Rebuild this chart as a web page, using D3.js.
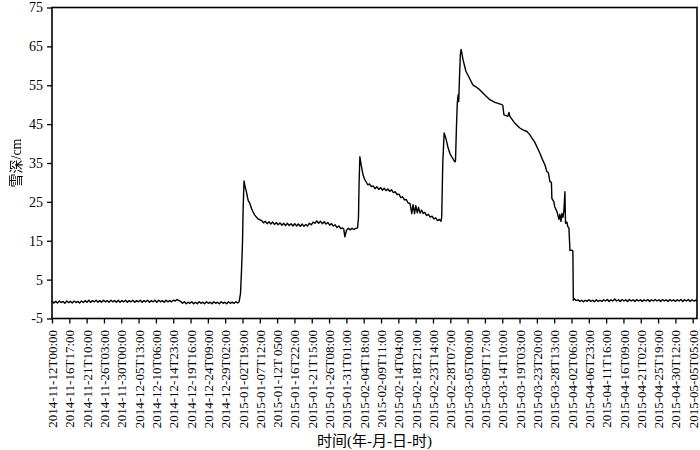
<!DOCTYPE html>
<html><head><meta charset="utf-8">
<script src="https://cdn.jsdelivr.net/npm/d3@7"></script>
<style>
body{margin:0;background:#fff}
svg{display:block}
</style>
</head><body>
<svg id="c" width="700" height="450"></svg>
<script>
// ---- data (hours since 2014-11-12T00:00, snow depth in cm) ----
const baseAHours = [
  0,12,24,36,48,60,72,84,96,108,
  120,132,144,156,168,180,192,204,216,228,
  240,252,264,276,288,300,312,324,336,348,
  360,372,384,396,408,420,432,444,456,468,
  480,492,504,516,528,540,552,564,576,588,
  600,612,624,636,648,660,672,684,696,708,
  720,732,744,756,768,780,792,804,816,828,
  840,852,864,876,888,900,912,924,936,948,
  960,972,984,996,1008,1020,1032,1044,1056,1068,
  1080,1092,1104,1116,1128,1140,1152,1164,1176,1188,
  1200,1212];
const baseADepth = [
  -0.5,-1.0,-0.6,-1.0,-0.5,-0.9,-0.6,-1.1,-0.5,-0.9,
  -0.6,-1.0,-0.5,-0.9,-0.6,-1.0,-0.5,-0.9,-0.4,-0.8,
  -0.3,-0.8,-0.4,-0.7,-0.3,-0.8,-0.4,-0.8,-0.3,-0.7,
  -0.4,-0.8,-0.3,-0.7,-0.4,-0.8,-0.3,-0.8,-0.4,-0.7,
  -0.3,-0.8,-0.4,-0.7,-0.3,-0.8,-0.4,-0.7,-0.3,-0.8,
  -0.4,-0.7,-0.3,-0.8,-0.4,-0.7,-0.3,-0.8,-0.3,-0.7,
  -0.4,-0.8,-0.3,-0.7,-0.4,-0.7,-0.3,-0.5,-0.1,-0.4,
  -0.6,-1.1,-0.7,-1.2,-0.8,-1.1,-0.7,-1.2,-0.8,-1.2,
  -0.7,-1.1,-0.8,-1.2,-0.7,-1.1,-0.8,-1.2,-0.7,-1.1,
  -0.8,-1.2,-0.7,-1.1,-0.8,-1.2,-0.7,-1.1,-0.8,-1.1,
  -0.7,-1.0];

const janHours = [1221,1230,1236,1243,1247,1253,1258,1269,1280,1291,1302,1312,1323,1345,1356,
  1368,1380,1392,1404,1416,1428,1440,1452,1464,1476,
  1488,1500,1512,1524,1536,1548,1560,1572,1584,1596,
  1608,1620,1632,1644,1656,1668,1680,1692,1704,1716,
  1728,1740,1752,1764,1776,1788,1800,1812,1824,1836,
  1848,1860,1872,1884,1896,
  1904,1911,1922,1934,1946,1958,1970,1982,1994];
const janDepth = [-0.7,1.4,6.6,14.3,22.8,30.4,29.3,27.5,25.4,24.6,23.3,22.4,21.6,20.6,20.4,
  20.2,19.6,20.0,19.4,19.9,19.3,19.8,19.2,19.7,19.1,
  19.6,19.0,19.5,18.9,19.5,18.9,19.4,18.8,19.4,18.8,
  19.3,18.7,19.3,18.7,19.2,18.8,19.5,19.1,19.8,19.5,
  20.1,19.5,20.0,19.4,19.9,19.3,19.7,19.0,19.4,18.8,
  19.1,18.4,18.8,18.1,18.3,
  18.0,16.0,17.7,18.2,17.8,18.2,17.9,18.2,18.3];

const febHours = [2000,2004,2009,2020,2030,2040,
  2048,2060,2072,2084,2096,2108,2120,2132,2144,2156,
  2168,2180,2192,2204,2216,2228,2240,2252,2264,2276,
  2288,2300,2312,2324,2336,2348,2356,2366,2374,2384,
  2392,2402,2412,2422,2432,2444,2456,2468,2480,2492,
  2504,2516,2528,2538,2543];
const febDepth = [21.0,30.0,36.6,34.0,31.9,30.8,
  30.3,29.4,29.6,28.9,29.1,28.4,28.9,28.2,28.7,28.0,
  28.5,27.9,28.3,27.7,28.1,27.4,27.6,26.9,27.0,26.1,
  26.3,25.5,25.6,24.7,24.6,22.0,24.3,22.0,24.0,22.2,
  23.6,22.1,22.9,22.0,22.3,21.5,21.8,21.1,21.3,20.6,
  20.9,20.2,20.5,20.0,21.0];

const marHours = [2550,2559,2570,2583,2596,2609,2629,2633,2640,2645,2650,2654,2660,2665,2670,
  2682,2701,2727,2746,2766,2792,2825,2857,2890,2936,
  2942,2949,2975,2982,2988,3021,3053,3073,3099,3118,
  3132,3151,3164,3184,3197,3217,3229,3239,3249,3259,
  3262,3275,3281,3295,3301,3308,3314,3321,3327,3334,
  3340,3347,3351,3360,3366,3373,3380,3393,3399,3402];
const marDepth = [35.0,42.7,41.4,39.2,37.5,36.6,35.3,35.5,45.2,50.5,52.5,50.8,58.0,63.0,64.2,
  61.6,58.6,56.6,55.1,54.6,53.8,52.5,51.3,50.6,50.0,
  49.8,47.4,47.0,48.0,47.0,45.2,44.0,43.5,43.1,42.3,
  41.4,40.3,39.2,37.5,36.2,34.5,32.8,32.5,30.2,30.0,
  25.9,25.0,23.7,22.5,21.6,20.5,21.8,20.0,22.0,21.0,
  22.5,27.6,19.5,19.8,18.6,18.4,12.5,12.6,12.3,-0.3];

const baseBHours = [
  3408,3420,3432,3444,3456,3468,3480,3492,3504,3516,
  3528,3540,3552,3564,3576,3588,3600,3612,3624,3636,
  3648,3660,3672,3684,3696,3708,3720,3732,3744,3756,
  3768,3780,3792,3804,3816,3828,3840,3852,3864,3876,
  3888,3900,3912,3924,3936,3948,3960,3972,3984,3996,
  4008,4020,4032,4044,4056,4068,4080,4092,4104,4116,
  4128,4140,4152,4164,4176,4188,4200,4209];
const baseBDepth = [
  0.1,-0.4,-0.2,-0.6,-0.3,-0.7,-0.3,-0.6,-0.2,-0.6,
  -0.3,-0.7,-0.2,-0.6,-0.3,-0.6,-0.2,-0.5,-0.1,-0.6,
  -0.2,-0.5,0.0,-0.5,-0.2,-0.6,-0.1,-0.5,-0.2,-0.6,
  -0.1,-0.5,-0.2,-0.6,-0.1,-0.5,-0.2,-0.6,-0.2,-0.5,
  -0.1,-0.6,-0.2,-0.5,-0.1,-0.5,-0.2,-0.6,-0.1,-0.5,
  -0.2,-0.6,-0.1,-0.5,-0.2,-0.6,-0.2,-0.5,-0.1,-0.6,
  -0.2,-0.5,-0.1,-0.6,-0.2,-0.5,-0.3,-0.4];

const tickLabels = [
  "2014-11-12T00:00","2014-11-16T17:00","2014-11-21T10:00","2014-11-26T03:00",
  "2014-11-30T00:00","2014-12-05T13:00","2014-12-10T06:00","2014-12-14T23:00",
  "2014-12-19T16:00","2014-12-24T09:00","2014-12-29T02:00","2015-01-02T19:00",
  "2015-01-07T12:00","2015-01-12T 0500","2015-01-16T22:00","2015-01-21T15:00",
  "2015-01-26T08:00","2015-01-31T01:00","2015-02-04T18:00","2015-02-09T11:00",
  "2015-02-14T04:00","2015-02-18T21:00","2015-02-23T14:00","2015-02-28T07:00",
  "2015-03-05T00:00","2015-03-09T17:00","2015-03-14T10:00","2015-03-19T03:00",
  "2015-03-23T20:00","2015-03-28T13:00","2015-04-02T06:00","2015-04-06T23:00",
  "2015-04-11T16:00","2015-04-16T09:00","2015-04-21T02:00","2015-04-25T19:00",
  "2015-04-30T12:00","2015-05-05T05:00"];
const tickIntervalHours = 113;
const yTicks = [-5,5,15,25,35,45,55,65,75];
const yTitle = "雪深/cm";
const xTitle = "时间(年-月-日-时)";

// ---- drawing ----
const FONT = "'Liberation Serif', 'Times New Roman', Times, 'Noto Sans CJK SC', serif";
const hours = [].concat(baseAHours, janHours, febHours, marHours, baseBHours);
const depth = [].concat(baseADepth, janDepth, febDepth, marDepth, baseBDepth);
const data = hours.map((h, i) => [h, depth[i]]);

const svg = d3.select("#c");
svg.append("rect").attr("width", 700).attr("height", 450).attr("fill", "#fff");

const pLeft = 52, pRight = 697, pTop = 7.5, pBottom = 318.5;
const x = d3.scaleLinear().domain([0, 4209]).range([pLeft, pRight]);
const y = d3.scaleLinear().domain([-5, 75]).range([pBottom, pTop]);

svg.append("path")
  .datum(data)
  .attr("d", d3.line().x(d => x(d[0])).y(d => y(d[1])))
  .attr("fill", "none")
  .attr("stroke", "#000")
  .attr("stroke-width", 1.4)
  .attr("stroke-linejoin", "round");

svg.append("rect")
  .attr("x", pLeft).attr("y", pTop)
  .attr("width", pRight - pLeft).attr("height", pBottom - pTop)
  .attr("fill", "none").attr("stroke", "#000").attr("stroke-width", 1.6);

const yAxis = svg.append("g")
  .attr("transform", `translate(${pLeft},0)`)
  .call(d3.axisLeft(y).tickValues(yTicks).tickSize(5).tickSizeOuter(0).tickPadding(4)
    .tickFormat(d => String(d)));
yAxis.select(".domain").remove();
yAxis.selectAll(".tick line").attr("stroke-width", 1.3);
yAxis.selectAll(".tick text")
  .style("font-family", FONT).style("font-size", "14px").style("fill", "#000");

const tickHours = tickLabels.map((_, i) => i * tickIntervalHours);
const xAxis = svg.append("g")
  .attr("transform", `translate(0,${pBottom})`)
  .call(d3.axisBottom(x).tickValues(tickHours).tickSize(5).tickSizeOuter(0)
    .tickFormat((d, i) => tickLabels[i]));
xAxis.select(".domain").remove();
xAxis.selectAll(".tick line").attr("stroke-width", 1.3);
xAxis.selectAll(".tick text")
  .attr("transform", "rotate(-90)")
  .attr("y", 0).attr("x", -11.5).attr("dy", "0.35em")
  .attr("text-anchor", "end")
  .style("font-family", FONT).style("font-size", "13px").style("fill", "#000");

svg.append("text")
  .attr("transform", `translate(18,${(pTop + pBottom) / 2}) rotate(-90)`)
  .attr("text-anchor", "middle").attr("dominant-baseline", "middle")
  .style("font-family", FONT).style("font-size", "14px").style("fill", "#000")
  .style("filter", "grayscale(1)")
  .text(yTitle);

svg.append("text")
  .attr("x", (pLeft + pRight) / 2).attr("y", 446)
  .attr("text-anchor", "middle")
  .style("font-family", FONT).style("font-size", "15px").style("fill", "#000")
  .text(xTitle);
</script>
</body></html>
